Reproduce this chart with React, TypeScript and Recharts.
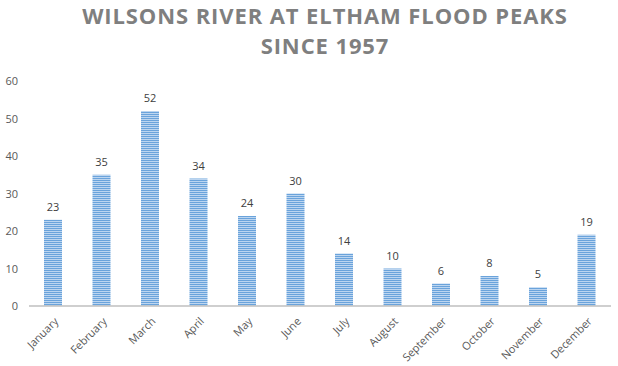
import { BarChart, Bar, XAxis, YAxis, LabelList } from 'recharts';

const months = [
  'January', 'February', 'March', 'April', 'May', 'June',
  'July', 'August', 'September', 'October', 'November', 'December',
];
const peaks = [23, 35, 52, 34, 24, 30, 14, 10, 6, 8, 5, 19];
const yTicks = [0, 10, 20, 30, 40, 50, 60];

const data = months.map((m, i) => ({ month: m, peaks: peaks[i] }));

const FONT = '"Open Sans", "Liberation Sans", sans-serif';

const MonthTick = ({ x, y, payload }: any) => (
  <g transform={`translate(${x + 6},${y + 8})`}>
    <text x={0} y={0} textAnchor="end" transform="rotate(-45)" fill="#595959" fontSize={11} fontFamily={FONT}>
      {payload.value}
    </text>
  </g>
);

const ValueTick = ({ y, payload }: any) => (
  <text x={18} y={y} dy={4} textAnchor="end" fill="#595959" fontSize={11} fontFamily={FONT}>
    {payload.value}
  </text>
);

export default function App() {
  return (
    <div style={{ position: 'absolute', left: 0, top: 0, width: 618, height: 366, background: '#fff' }}>
      <div
        style={{
          position: 'absolute', left: 0, top: 0, width: 650, textAlign: 'center',
          fontFamily: FONT, fontWeight: 700, fontSize: 22, lineHeight: '30px',
          letterSpacing: 0.9, color: '#7f7f7f',
        }}
      >
        WILSONS RIVER AT ELTHAM FLOOD PEAKS
        <br />
        SINCE 1957
      </div>
      <BarChart width={618} height={366} data={data} margin={{ top: 81, right: 7, left: 0, bottom: 10 }}>
        <defs>
          <pattern id="stripes" patternUnits="userSpaceOnUse" width={4} height={2}>
            <rect x={0} y={0} width={4} height={2} fill="#bcd5f0" />
            <rect x={0} y={0} width={4} height={1} fill="#6aa3db" />
          </pattern>
        </defs>
        <XAxis
          dataKey="month"
          interval={0}
          height={50}
          tickLine={false}
          axisLine={{ stroke: '#bfbfbf', strokeWidth: 1.5 }}
          tick={<MonthTick />}
        />
        <YAxis
          domain={[0, 60]}
          ticks={yTicks}
          width={29}
          axisLine={false}
          tickLine={false}
          tick={<ValueTick />}
        />
        <Bar dataKey="peaks" fill="url(#stripes)" barSize={18} isAnimationActive={false}>
          <LabelList dataKey="peaks" position="top" offset={9} fill="#404040" fontSize={11} fontFamily={FONT} />
        </Bar>
      </BarChart>
    </div>
  );
}
